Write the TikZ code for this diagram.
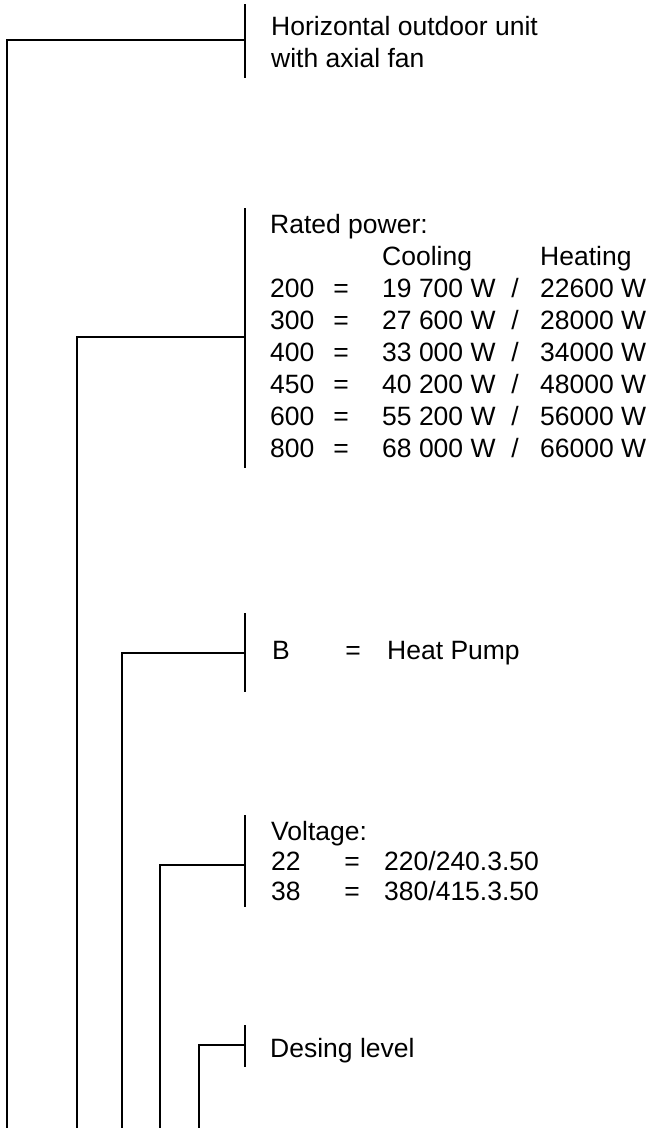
\documentclass[tikz,border=0pt]{standalone}
\usepackage{fontspec}
\setmainfont{Liberation Sans}
\usetikzlibrary{positioning}

\begin{document}
\begin{tikzpicture}[
    x=1pt, y=-1pt,
    every node/.style={font=\fontsize{26.5}{29}\selectfont, inner sep=0pt, anchor=base west},
    sign/.style={anchor=base},
    line/.style={line width=1.2pt}
]
\useasboundingbox (0,0) rectangle (649,1128);

% Texts
\node (unit) at (271,35) {Horizontal outdoor unit};
\node (fan) at (271,67) {with axial fan};

\node (power) at (270,233) {Rated power:};
\node (cooling) at (382,265) {Cooling};
\node (heating) at (540,265) {Heating};
\foreach \size/\cool/\heat [count=\r from 0] in
    {200/19 700/22600, 300/27 600/28000, 400/33 000/34000,
     450/40 200/48000, 600/55 200/56000, 800/68 000/66000} {
  \node (size\r) at (270,297+32*\r) {\size};
  \node[sign] (eq\r) at (341,297+32*\r) {=};
  \node (cool\r) at (382,297+32*\r) {\cool\ W};
  \node[sign] (sl\r) at (515,297+32*\r) {/};
  \node (heat\r) at (540,297+32*\r) {\heat\ W};
}

\node (typeb) at (272,659) {B};
\node[sign] (typeeq) at (353,659) {=};
\node (pump) at (387,659) {Heat Pump};

\node (voltage) at (271,840) {Voltage:};
\node (volt22) at (271,870) {22};
\node[sign] (volteq22) at (352,870) {=};
\node (val22) at (384,870) {220/240.3.50};
\node (volt38) at (271,900) {38};
\node[sign] (volteq38) at (352,900) {=};
\node (val38) at (384,900) {380/415.3.50};

\node (design) at (270,1057) {Desing level};

% Bars and legs
\coordinate (unit top) at (245,4);
\coordinate (unit bot) at (245,78);
\coordinate (unit tap) at (245,40);
\coordinate (unit leg) at (7,1128);

\coordinate (power top) at (245,208);
\coordinate (power bot) at (245,468);
\coordinate (power tap) at (245,337);
\coordinate (power leg) at (77,1128);

\coordinate (pump top) at (245,613);
\coordinate (pump bot) at (245,692);
\coordinate (pump tap) at (245,653);
\coordinate (pump leg) at (122,1128);

\coordinate (volt top) at (245,815);
\coordinate (volt bot) at (245,907);
\coordinate (volt tap) at (245,865);
\coordinate (volt leg) at (160,1128);

\coordinate (design top) at (245,1025);
\coordinate (design bot) at (245,1067);
\coordinate (design tap) at (245,1045);
\coordinate (design leg) at (199,1128);

\foreach \b in {unit, power, pump, volt, design} {
  \draw[line] (\b\space top) -- (\b\space bot);
  \draw[line] (\b\space tap) -| (\b\space leg);
}

\end{tikzpicture}
\end{document}
